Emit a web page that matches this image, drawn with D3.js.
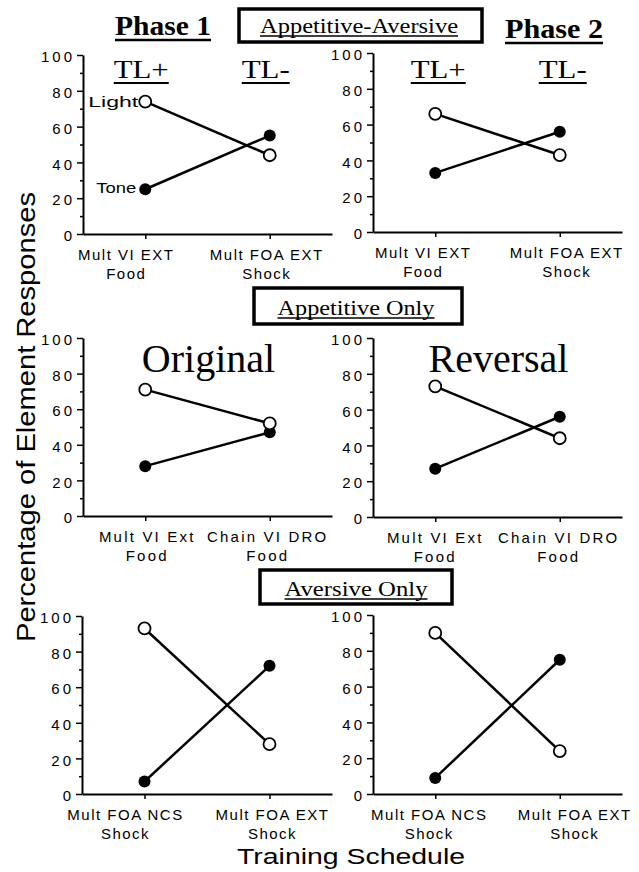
<!DOCTYPE html>
<html>
<head>
<meta charset="utf-8">
<script src="https://cdn.jsdelivr.net/npm/d3@7"></script>
<style>
  body { margin: 0; background: #fff; }
  svg { display: block; }
</style>
</head>
<body>
<script>
// values (percentage of element responses)
const panelNames = ['Phase 1', 'Phase 2', 'Original', 'Reversal', 'Aversive A', 'Aversive B'];
const schedulesTop = ['Mult VI EXT|Food', 'Mult FOA EXT|Shock'];
const schedulesMid = ['Mult VI Ext|Food', 'Chain VI DRO|Food'];
const schedulesBot = ['Mult FOA NCS|Shock', 'Mult FOA EXT|Shock'];
const lightValues = [[74, 44], [66, 43], [71, 52], [73, 44], [93, 28], [90, 24]];
const toneValues = [[25, 55], [33, 56], [28, 47], [27, 56], [7, 72], [9, 75]];
const yTicks = [0, 20, 40, 60, 80, 100];
const yMinor = [10, 30, 50, 70, 90];
const cueLabels = ['TL+', 'TL-'];

const W = 639, H = 872;
const sans = "'Liberation Sans', Arial, Helvetica, sans-serif";
const serif = "'Liberation Serif', 'Times New Roman', serif";

// panel frames (pixels) and small nudges of the category captions
const panels = [
  {x0: 83, x1: 332, yTop: 55, yBot: 234, shift: [-19, -3], spacing: 1.5},
  {x0: 373, x1: 622, yTop: 53, yBot: 232, shift: [-12, 7], spacing: 1.5},
  {x0: 83, x1: 332, yTop: 338, yBot: 516, shift: [2, -2], spacing: 2.2},
  {x0: 373, x1: 622, yTop: 338, yBot: 517, shift: [0, -1], spacing: 2.2},
  {x0: 82, x1: 332, yTop: 616, yBot: 794, shift: [-19, 3], spacing: 1.5},
  {x0: 373, x1: 622, yTop: 615, yBot: 794, shift: [-6, 15], spacing: 1.5}
];
const scheduleSets = [schedulesTop, schedulesTop, schedulesMid, schedulesMid, schedulesBot, schedulesBot];

const svg = d3.select('body').append('svg')
    .attr('width', W)
    .attr('height', H);

svg.append('rect').attr('width', W).attr('height', H).attr('fill', '#fff');

// text helper, optional stretched length and underline
function label(g, x, y, str, o) {
  const t = g.append('text')
      .attr('x', x)
      .attr('y', y)
      .attr('text-anchor', o.anchor || 'middle')
      .style('font-family', o.font || serif)
      .style('font-size', o.size + 'px')
      .style('font-weight', o.weight || 'normal')
      .attr('fill', '#000')
      .text(str);
  if (o.len) t.attr('textLength', o.len).attr('lengthAdjust', 'spacingAndGlyphs');
  if (o.underline) {
    const len = o.len || t.node().getComputedTextLength();
    const left = (o.anchor === 'start') ? x : x - len / 2;
    g.append('line')
        .attr('x1', left).attr('x2', left + len)
        .attr('y1', y + o.underline).attr('y2', y + o.underline)
        .attr('stroke', '#000')
        .attr('stroke-width', o.uw || 1.5);
  }
  return t;
}

panels.forEach((p, i) => {
  const cats = scheduleSets[i];
  const x = d3.scalePoint().domain(cats).range([p.x0, p.x1]).padding(0.5);
  const y = d3.scaleLinear().domain([0, 100]).range([p.yBot, p.yTop]);
  const g = svg.append('g').attr('class', 'panel').attr('data-name', panelNames[i]);

  // y axis: minor ticks then major ticks
  g.append('g')
      .attr('transform', `translate(${p.x0},0)`)
      .call(d3.axisLeft(y).tickValues(yMinor).tickSize(3).tickSizeOuter(0).tickFormat(''))
      .call(a => a.select('.domain').remove())
      .call(a => a.selectAll('line').attr('stroke-width', 1.5));

  const ya = g.append('g')
      .attr('transform', `translate(${p.x0},0)`)
      .call(d3.axisLeft(y).tickValues(yTicks).tickSize(6).tickSizeOuter(0).tickPadding(2));
  ya.select('.domain').attr('stroke-width', 2);
  ya.selectAll('line').attr('stroke-width', 1.5);
  ya.selectAll('text')
      .attr('dy', '0.45em')
      .style('font-family', sans)
      .style('font-size', '15px')
      .style('letter-spacing', '3px')
      .attr('fill', '#000');

  // x axis
  const xa = g.append('g')
      .attr('transform', `translate(0,${p.yBot})`)
      .call(d3.axisBottom(x).tickSize(5).tickSizeOuter(0).tickFormat(''));
  xa.select('.domain').attr('stroke-width', 2);
  xa.selectAll('line').attr('stroke-width', 1.5);

  cats.forEach((c, j) => {
    const lines = c.split('|');
    lines.forEach((s, k) => {
      g.append('text')
          .attr('x', x(c) + p.shift[j])
          .attr('y', p.yBot + 26 + k * 19)
          .attr('text-anchor', 'middle')
          .style('font-family', sans)
          .style('font-size', '15px')
          .style('letter-spacing', p.spacing + 'px')
          .text(s);
    });
  });

  const line = d3.line().x(d => x(d.c)).y(d => y(d.v));
  const lightPts = cats.map((c, j) => ({c, v: lightValues[i][j]}));
  const tonePts = cats.map((c, j) => ({c, v: toneValues[i][j]}));

  [lightPts, tonePts].forEach(pts => {
    g.append('path')
        .attr('d', line(pts))
        .attr('fill', 'none')
        .attr('stroke', '#000')
        .attr('stroke-width', 2.5);
  });

  g.selectAll('circle.tone')
    .data(tonePts)
    .join('circle')
      .attr('class', 'tone')
      .attr('cx', d => x(d.c))
      .attr('cy', d => y(d.v))
      .attr('r', 6)
      .attr('fill', '#000');

  g.selectAll('circle.light')
    .data(lightPts)
    .join('circle')
      .attr('class', 'light')
      .attr('cx', d => x(d.c))
      .attr('cy', d => y(d.v))
      .attr('r', 6)
      .attr('fill', '#fff')
      .attr('stroke', '#000')
      .attr('stroke-width', 1.8);

  // legend words in first panel only
  if (i === 0) {
    label(g, x(cats[0]) - 7, y(lightValues[0][0]) + 5, 'Light',
      {font: sans, size: 14, anchor: 'end', len: 50});
    label(g, x(cats[0]) - 9, y(toneValues[0][0]) + 4, 'Tone',
      {font: sans, size: 14, anchor: 'end', len: 40});
  }

  // TL+ / TL- above the top panels
  if (i < 2) {
    cats.forEach((c, j) => {
      label(g, x(c) + (i === 0 ? -4 : 3), p.yTop + 23 + i * 2, cueLabels[j],
        {size: 26, len: j === 0 ? 55 : 48, underline: 5, uw: 2});
    });
  }
  if (i === 2 || i === 3) {
    label(g, (p.x0 + p.x1) / 2 + 1, p.yTop + 34, panelNames[i], {size: 40});
  }
});

// phase headers
label(svg, 163, 35, 'Phase 1', {size: 27, weight: 'bold', len: 96, underline: 5, uw: 2.5});
label(svg, 554, 38, 'Phase 2', {size: 27, weight: 'bold', len: 98, underline: 5, uw: 2.5});

// boxed condition titles
function boxTitle(x0, y0, x1, y1, str, tx, ty, len) {
  svg.append('rect')
      .attr('x', x0).attr('y', y0)
      .attr('width', x1 - x0).attr('height', y1 - y0)
      .attr('fill', '#fff')
      .attr('stroke', '#000')
      .attr('stroke-width', 3.5);
  label(svg, tx, ty, str, {size: 20, len: len, underline: 3, uw: 1.3});
}
boxTitle(239, 9, 482, 42, 'Appetitive-Aversive', 359, 33, 198);
boxTitle(254, 288, 462, 324, 'Appetitive Only', 356, 315, 157);
boxTitle(260, 570, 452, 604, 'Aversive Only', 356, 596, 143);

// axis titles
svg.append('text')
    .attr('transform', 'translate(35,417) rotate(-90)')
    .attr('text-anchor', 'middle')
    .attr('textLength', 450)
    .attr('lengthAdjust', 'spacingAndGlyphs')
    .style('font-family', sans)
    .style('font-size', '26px')
    .text('Percentage of Element Responses');

svg.append('text')
    .attr('x', 351)
    .attr('y', 864)
    .attr('text-anchor', 'middle')
    .attr('textLength', 228)
    .attr('lengthAdjust', 'spacingAndGlyphs')
    .style('font-family', sans)
    .style('font-size', '22px')
    .text('Training Schedule');
</script>
</body>
</html>
